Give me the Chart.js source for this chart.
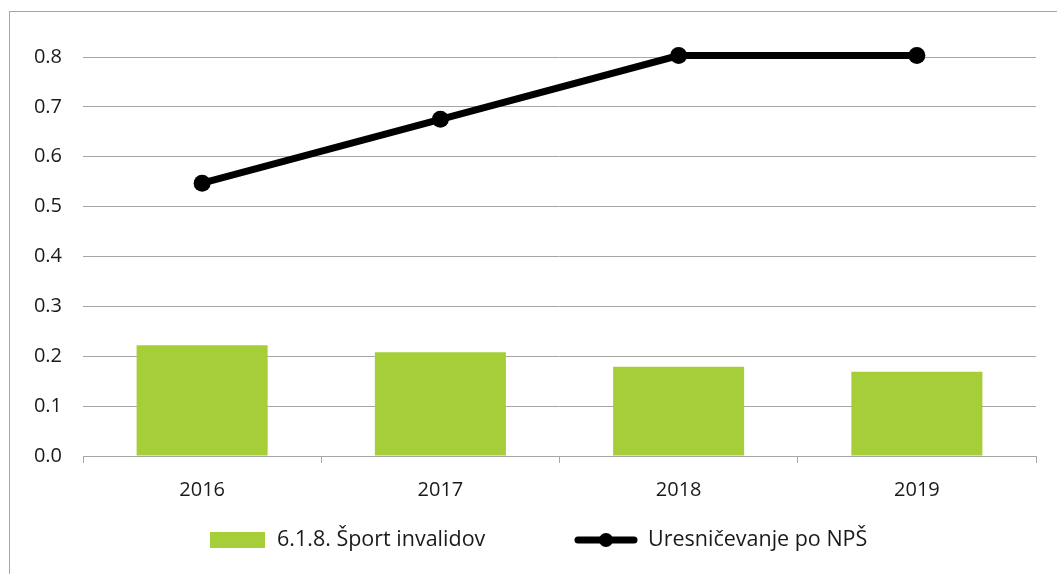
<!DOCTYPE html>
<html>
<head>
<meta charset="utf-8">
<script src="https://cdn.jsdelivr.net/npm/chart.js@4/dist/chart.umd.min.js"></script>
<style>
  html, body { margin: 0; padding: 0; background: #fff; overflow: hidden; }
</style>
</head>
<body>
<canvas id="chart" width="1057" height="574"></canvas>
<script>
// values
const years = ['2016', '2017', '2018', '2019'];
const sportInvalidov = [0.222, 0.208, 0.179, 0.169];
const uresnicevanje = [0.547, 0.675, 0.803, 0.803];
const barLabel = '6.1.8. Šport invalidov';
const lineLabel = 'Uresničevanje po NPŠ';

const FONT = '"Open Sans", "Noto Sans", sans-serif';
const GRID = '#a6a6a6';
const TEXT = '#1a1a1a';

// outer frame round the chart (only left and top edges are visible in the picture)
const framePlugin = {
    id: 'frame',
    beforeDraw(chart) {
        let ctx = chart.ctx;
        ctx.save();
        ctx.fillStyle = '#fff';
        ctx.fillRect(0, 0, chart.width, chart.height);
        ctx.strokeStyle = GRID;
        ctx.lineWidth = 1;
        ctx.strokeRect(9.5, 11.5, chart.width + 20, chart.height + 20);
        ctx.restore();
    }
};

// legend below the axis: green box for the bars, thick line with a dot for the line
const legendPlugin = {
    id: 'customLegend',
    afterDraw(chart) {
        let ctx = chart.ctx;
        let bars = chart.data.datasets.find(d => d.type !== 'line');
        let line = chart.data.datasets.find(d => d.type === 'line');
        let y = 540;
        ctx.save();
        ctx.font = '21.5px ' + FONT;
        ctx.textBaseline = 'middle';

        // bar item
        ctx.fillStyle = bars.backgroundColor;
        ctx.fillRect(210, y - 8, 55, 16);
        ctx.fillStyle = TEXT;
        ctx.fillText(bars.label, 277, y);

        // line item
        ctx.strokeStyle = line.borderColor;
        ctx.lineWidth = 7;
        ctx.lineCap = 'round';
        ctx.beginPath();
        ctx.moveTo(578, y);
        ctx.lineTo(634, y);
        ctx.stroke();
        ctx.beginPath();
        ctx.arc(606, y, 7, 0, Math.PI * 2);
        ctx.fillStyle = line.borderColor;
        ctx.fill();
        ctx.fillStyle = TEXT;
        ctx.fillText(line.label, 648, y);
        ctx.restore();
    }
};

let ctx = document.getElementById('chart').getContext('2d');
window.myChart = new Chart(ctx, {
    type: 'bar',
    data: {
        labels: years,
        datasets: [{
            type: 'line',
            label: lineLabel,
            data: uresnicevanje,
            borderColor: '#000',
            backgroundColor: '#000',
            borderWidth: 7,
            pointRadius: 8.5,
            pointHoverRadius: 8.5,
            pointBackgroundColor: '#000',
            pointBorderWidth: 0,
            tension: 0,
            clip: false,
            order: 0
        }, {
            label: barLabel,
            data: sportInvalidov,
            backgroundColor: '#a6ce39',
            borderWidth: 0,
            barPercentage: 0.55,
            categoryPercentage: 1,
            order: 1
        }]
    },
    options: {
        responsive: false,
        animation: false,
        layout: {
            padding: { left: 10, right: 21, top: 57, bottom: 58 }
        },
        scales: {
            x: {
                offset: true,
                grid: {
                    display: true,
                    offset: true,
                    drawOnChartArea: false,
                    drawTicks: true,
                    tickLength: 7,
                    color: GRID
                },
                border: { display: true, color: GRID },
                ticks: {
                    padding: 15,
                    color: TEXT,
                    font: { family: FONT, size: 20 }
                },
                afterFit(scale) { scale.height = 60; }
            },
            y: {
                min: 0,
                max: 0.8,
                grid: {
                    color: GRID,
                    drawTicks: false
                },
                border: { display: false },
                ticks: {
                    stepSize: 0.1,
                    padding: 21,
                    color: TEXT,
                    font: { family: FONT, size: 20 },
                    callback: v => v.toFixed(1)
                },
                afterFit(scale) { scale.width = 73; }
            }
        },
        plugins: {
            legend: { display: false },
            tooltip: { enabled: false }
        }
    },
    plugins: [framePlugin, legendPlugin]
});
</script>
</body>
</html>
